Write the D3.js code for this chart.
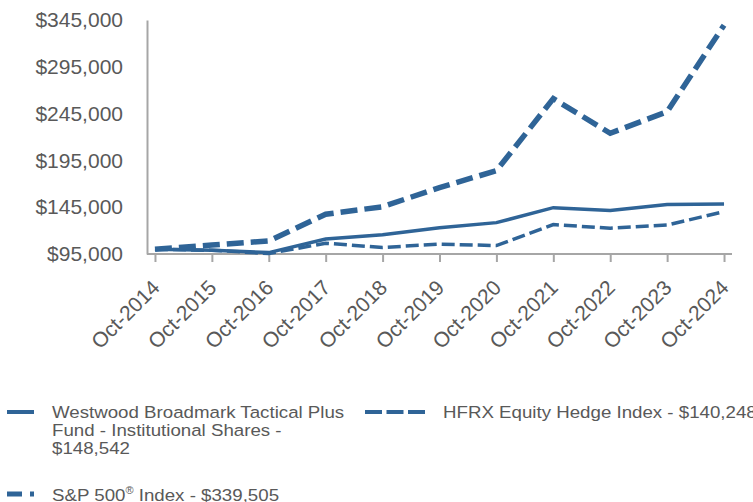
<!DOCTYPE html>
<html>
<head>
<meta charset="utf-8">
<script src="https://cdn.jsdelivr.net/npm/d3@7"></script>
<style>
  body { margin: 0; background: #fff; }
  text { font-family: "Liberation Sans", Arial, sans-serif; fill: #595959; }
</style>
</head>
<body>
<div id="chart"></div>
<script>
// data
var years = ["Oct-2014","Oct-2015","Oct-2016","Oct-2017","Oct-2018","Oct-2019","Oct-2020","Oct-2021","Oct-2022","Oct-2023","Oct-2024"];
var fundValues = [100000, 99000, 96500, 111000, 115500, 123000, 128500, 144500, 141500, 148000, 148542];
var hfrxValues = [100000, 99000, 95500, 106500, 102000, 105500, 104000, 126500, 122500, 126000, 140248];
var spValues   = [100000, 104500, 109000, 137500, 145500, 166000, 184000, 261000, 224000, 247000, 339505];
var yTicks = [95000, 145000, 195000, 245000, 295000, 345000];
var seriesNames = [
    ["Westwood Broadmark Tactical Plus", "Fund - Institutional Shares -", "$148,542"],
    ["HFRX Equity Hedge Index - $140,248"],
    ["S&P 500", "\u00AE", " Index - $339,505"]
];

var blue = "#2f6497";
var axisGrey = "#a6a6a6";

var svg = d3.select("#chart").append("svg")
    .attr("width", 753)
    .attr("height", 502);

var xScale = d3.scalePoint()
    .domain(years)
    .range([147, 732])
    .padding(0.14);

var yScale = d3.scaleLinear()
    .domain([95000, 345000])
    .range([254, 20]);

// y axis
var yAxis = d3.axisLeft(yScale)
    .tickValues(yTicks)
    .tickSize(0)
    .tickPadding(24)
    .tickFormat(function(d) { return "$" + d3.format(",")(d); });

var gy = svg.append("g")
    .attr("transform", "translate(147,0)")
    .call(yAxis);
gy.select(".domain").attr("stroke", axisGrey).attr("stroke-width", 2);
gy.selectAll("text")
    .style("font-size", "21px")
    .style("fill", "#595959");

// x axis
var xAxis = d3.axisBottom(xScale)
    .tickSize(8)
    .tickSizeOuter(0)
    .tickFormat("");

var gx = svg.append("g")
    .attr("transform", "translate(0,254)")
    .call(xAxis);
gx.select(".domain").attr("stroke", axisGrey).attr("stroke-width", 2)
    .attr("d", "M147,0H732");
gx.selectAll(".tick line").attr("stroke", axisGrey).attr("stroke-width", 2);

svg.append("g").selectAll("text")
    .data(years)
    .enter().append("text")
    .attr("text-anchor", "end")
    .attr("transform", function(d) { return "translate(" + (xScale(d) + 6) + ",289) rotate(-45)"; })
    .style("font-size", "21px")
    .text(function(d) { return d; });

// lines
var line = d3.line()
    .x(function(d, i) { return xScale(years[i]); })
    .y(function(d) { return yScale(d); });

svg.append("path")
    .datum(hfrxValues)
    .attr("d", line)
    .attr("fill", "none")
    .attr("stroke", blue)
    .attr("stroke-width", 3.5)
    .attr("stroke-dasharray", "13,5");

svg.append("path")
    .datum(fundValues)
    .attr("d", line)
    .attr("fill", "none")
    .attr("stroke", blue)
    .attr("stroke-width", 3.5);

svg.append("path")
    .datum(spValues)
    .attr("d", line)
    .attr("fill", "none")
    .attr("stroke", blue)
    .attr("stroke-width", 5.5)
    .attr("stroke-dasharray", "17,7");

// legend (text is a little wider than the plain font, so stretch it)
var legend = svg.append("g");
var stretch = 1.1;

function legendText(x, y) {
    return legend.append("text")
        .attr("transform", "translate(" + x + "," + y + ") scale(" + stretch + ",1)")
        .style("font-size", "17px");
}

legend.append("line")
    .attr("x1", 7).attr("x2", 34).attr("y1", 412).attr("y2", 412)
    .attr("stroke", blue).attr("stroke-width", 4);
var t1 = legendText(52, 418);
seriesNames[0].forEach(function(s, i) {
    t1.append("tspan").attr("x", 0).attr("dy", i === 0 ? 0 : 18).text(s);
});

legend.append("line")
    .attr("x1", 365).attr("x2", 425).attr("y1", 412).attr("y2", 412)
    .attr("stroke", blue).attr("stroke-width", 4)
    .attr("stroke-dasharray", "17,4.5");
legendText(443, 418).text(seriesNames[1][0]);

legend.append("line")
    .attr("x1", 7).attr("x2", 34).attr("y1", 494).attr("y2", 494)
    .attr("stroke", blue).attr("stroke-width", 5)
    .attr("stroke-dasharray", "15,8");
var t3 = legendText(52, 501);
t3.append("tspan").text(seriesNames[2][0]);
t3.append("tspan").attr("dy", -7).style("font-size", "10px").text(seriesNames[2][1]);
t3.append("tspan").attr("dy", 7).text(seriesNames[2][2]);
</script>
</body>
</html>
